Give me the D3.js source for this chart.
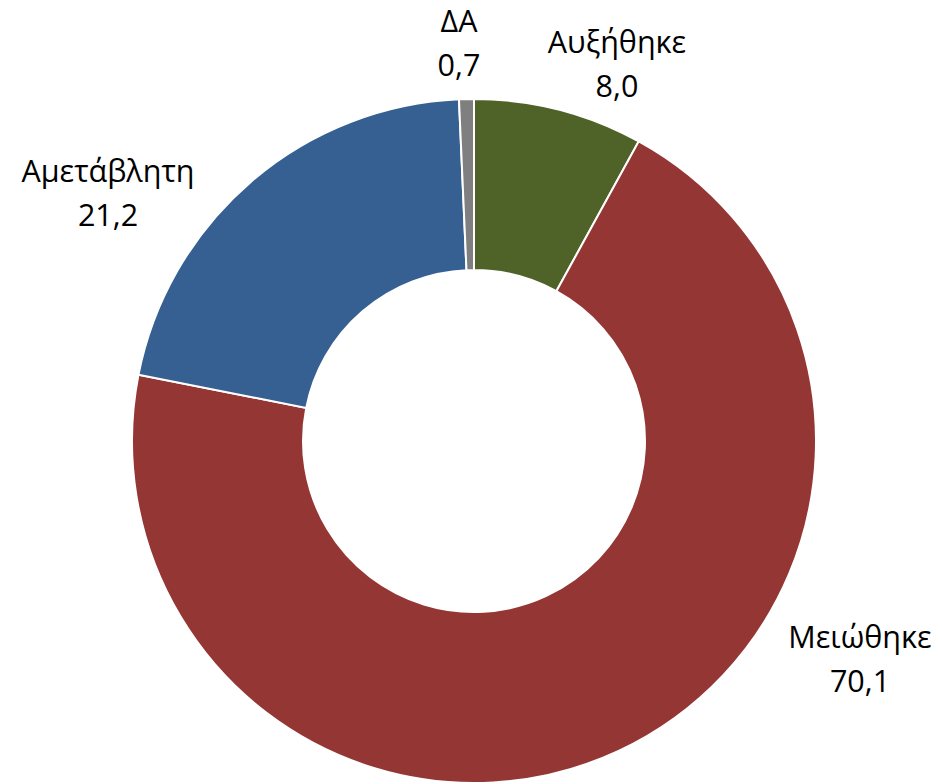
<!DOCTYPE html>
<html><head><meta charset="utf-8">
<script src="https://cdn.jsdelivr.net/npm/d3@7"></script>
<style>body{margin:0;background:#fff}svg{display:block}</style>
</head><body>
<svg id="chart" width="942" height="784"></svg>
<script>
const categories = ["Αυξήθηκε", "Μειώθηκε", "Αμετάβλητη", "ΔΑ"];
const values = [8.0, 70.1, 21.2, 0.7];
const valueLabels = ["8,0", "70,1", "21,2", "0,7"];
const colors = ["#4F6228", "#943634", "#366092", "#7F7F7F"];
// label anchor positions (layout)
const labelPos = [[617, 53], [860, 648], [108, 182], [459, 32]];

const svg = d3.select("#chart");
const cx = 474, cy = 441, outerR = 342, innerR = 171;
const pie = d3.pie().sort(null).value(d => d);
const arc = d3.arc().innerRadius(innerR).outerRadius(outerR);
const g = svg.append("g").attr("transform", `translate(${cx},${cy})`);
g.selectAll("path").data(pie(values)).join("path")
  .attr("d", arc).attr("fill", (d, i) => colors[i])
  .attr("stroke", "#fff").attr("stroke-width", 2);

const lbl = svg.append("g").attr("font-family", "'Open Sans', sans-serif")
  .attr("font-size", 30.5).attr("fill", "#000").attr("text-anchor", "middle");
categories.forEach((c, i) => {
  const t = lbl.append("text").attr("x", labelPos[i][0]).attr("y", labelPos[i][1]);
  t.append("tspan").attr("x", labelPos[i][0]).text(c);
  t.append("tspan").attr("x", labelPos[i][0]).attr("dy", 44).text(valueLabels[i]);
});
</script>
</body></html>
